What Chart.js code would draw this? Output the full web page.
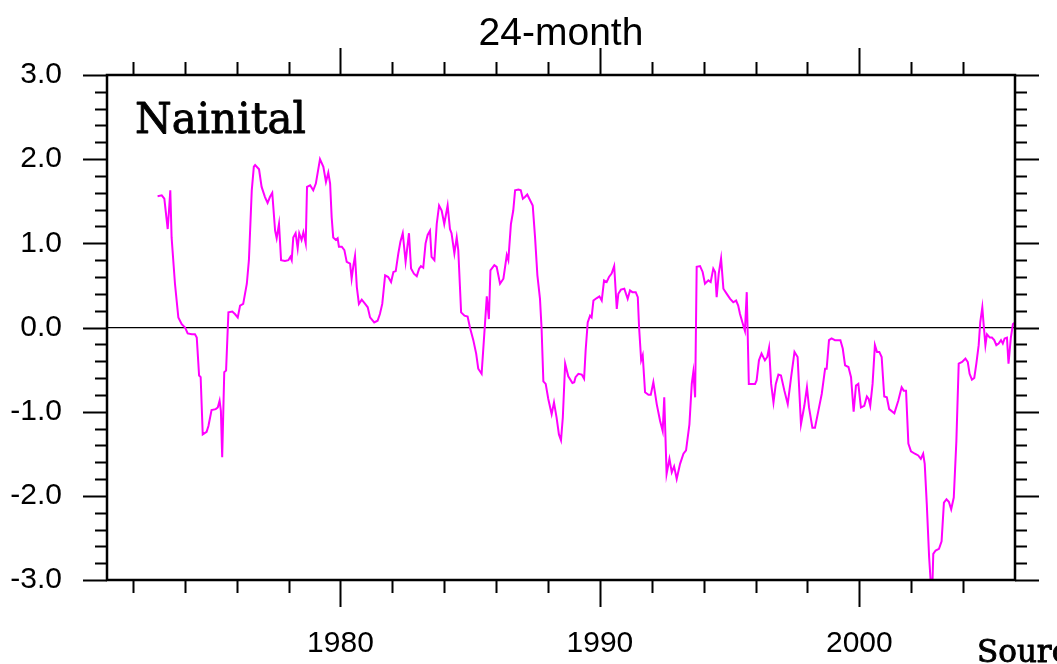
<!DOCTYPE html>
<html lang="en">
<head>
    <meta charset="UTF-8">
    <title>Nainital - 24-month</title>
    <script src="https://cdn.jsdelivr.net/npm/chart.js"></script>
    <style>
        html, body { margin: 0; padding: 0; background: #fff; }
        #wrap { width: 1057px; height: 664px; position: relative; }
    </style>
</head>
<body>
    <div id="wrap">
        <canvas id="spiChart"></canvas>
    </div>

    <script>
        // 24-month index for Nainital
        const years = [
            1972.95, 1973.11, 1973.21, 1973.34, 1973.39, 1973.44, 1973.49, 1973.62, 1973.75, 1973.88,
            1974.01, 1974.11, 1974.27, 1974.39, 1974.46, 1974.55, 1974.61, 1974.69, 1974.84, 1974.91,
            1975.03, 1975.19, 1975.27, 1975.34, 1975.39, 1975.44, 1975.52, 1975.59, 1975.68, 1975.83,
            1975.93, 1976.04, 1976.13, 1976.25, 1976.39, 1976.47, 1976.58, 1976.66, 1976.71, 1976.86,
            1976.96, 1977.09, 1977.19, 1977.28, 1977.37, 1977.48, 1977.54, 1977.63, 1977.71, 1977.86,
            1977.99, 1978.07, 1978.12, 1978.18, 1978.27, 1978.35, 1978.41, 1978.50, 1978.57, 1978.66,
            1978.71, 1978.83, 1978.95, 1979.05, 1979.21, 1979.34, 1979.44, 1979.53, 1979.60, 1979.66,
            1979.72, 1979.82, 1979.89, 1979.94, 1980.05, 1980.15, 1980.24, 1980.37, 1980.43, 1980.50,
            1980.56, 1980.63, 1980.71, 1980.82, 1980.95, 1981.05, 1981.14, 1981.30, 1981.43, 1981.52,
            1981.61, 1981.72, 1981.84, 1981.95, 1982.04, 1982.13, 1982.23, 1982.31, 1982.40, 1982.51,
            1982.64, 1982.72, 1982.83, 1982.94, 1983.03, 1983.10, 1983.19, 1983.28, 1983.36, 1983.45,
            1983.51, 1983.62, 1983.71, 1983.80, 1983.90, 1984.00, 1984.13, 1984.22, 1984.28, 1984.39,
            1984.48, 1984.54, 1984.65, 1984.78, 1984.90, 1984.99, 1985.12, 1985.23, 1985.31, 1985.44,
            1985.51, 1985.64, 1985.72, 1985.78, 1985.93, 1986.02, 1986.15, 1986.28, 1986.41, 1986.47,
            1986.57, 1986.66, 1986.73, 1986.86, 1986.95, 1987.03, 1987.11, 1987.20, 1987.28, 1987.41,
            1987.50, 1987.59, 1987.69, 1987.75, 1987.82, 1987.91, 1988.01, 1988.14, 1988.23, 1988.33,
            1988.42, 1988.50, 1988.57, 1988.66, 1988.78, 1988.94, 1989.01, 1989.06, 1989.17, 1989.30,
            1989.39, 1989.45, 1989.53, 1989.62, 1989.68, 1989.75, 1989.88, 1989.98, 1990.07, 1990.16,
            1990.26, 1990.35, 1990.45, 1990.55, 1990.65, 1990.71, 1990.81, 1990.94, 1991.07, 1991.16,
            1991.25, 1991.38, 1991.46, 1991.51, 1991.59, 1991.65, 1991.74, 1991.87, 1991.96, 1992.06,
            1992.19, 1992.32, 1992.42, 1992.48, 1992.57, 1992.68, 1992.77, 1992.86, 1992.96, 1993.09,
            1993.22, 1993.32, 1993.45, 1993.54, 1993.60, 1993.67, 1993.73, 1993.86, 1993.96, 1994.05,
            1994.18, 1994.27, 1994.37, 1994.44, 1994.50, 1994.58, 1994.67, 1994.76, 1994.89, 1995.02,
            1995.14, 1995.25, 1995.33, 1995.40, 1995.53, 1995.59, 1995.66, 1995.74, 1995.98, 1996.04,
            1996.13, 1996.23, 1996.36, 1996.45, 1996.52, 1996.60, 1996.69, 1996.78, 1996.88, 1996.98,
            1997.11, 1997.24, 1997.37, 1997.50, 1997.62, 1997.75, 1997.88, 1997.98, 1998.06, 1998.19,
            1998.29, 1998.42, 1998.55, 1998.68, 1998.74, 1998.83, 1998.93, 1999.06, 1999.27, 1999.36,
            1999.45, 1999.58, 1999.68, 1999.78, 1999.87, 1999.96, 2000.06, 2000.19, 2000.29, 2000.36,
            2000.42, 2000.51, 2000.60, 2000.68, 2000.77, 2000.86, 2000.96, 2001.06, 2001.15, 2001.35,
            2001.50, 2001.63, 2001.71, 2001.80, 2001.89, 2001.99, 2002.14, 2002.27, 2002.37, 2002.46,
            2002.52, 2002.60, 2002.69, 2002.75, 2002.82, 2002.85, 2002.94, 2003.07, 2003.17, 2003.26,
            2003.36, 2003.45, 2003.54, 2003.64, 2003.74, 2003.83, 2003.96, 2004.09, 2004.18, 2004.25,
            2004.34, 2004.43, 2004.51, 2004.60, 2004.66, 2004.74, 2004.79, 2004.86, 2004.92, 2005.03,
            2005.11, 2005.20, 2005.28, 2005.37, 2005.46, 2005.53, 2005.60, 2005.69, 2005.75, 2005.84,
            2005.92, 2006.00
        ];
        const spi24 = [
            1.56, 1.57, 1.53, 1.17, 1.39, 1.63, 1.07, 0.52, 0.12, 0.04,
            0.00, -0.07, -0.08, -0.08, -0.12, -0.57, -0.59, -1.27, -1.24, -1.17,
            -0.98, -0.97, -0.95, -0.87, -0.99, -1.54, -0.53, -0.51, 0.18, 0.19,
            0.16, 0.12, 0.26, 0.28, 0.52, 0.80, 1.63, 1.91, 1.93, 1.88,
            1.67, 1.55, 1.48, 1.55, 1.60, 1.15, 1.06, 1.23, 0.80, 0.79,
            0.80, 0.84, 0.80, 1.07, 1.12, 0.94, 1.12, 1.04, 1.13, 1.00,
            1.67, 1.69, 1.63, 1.71, 2.00, 1.91, 1.73, 1.84, 1.71, 1.31,
            1.07, 1.04, 1.06, 0.96, 0.96, 0.92, 0.78, 0.76, 0.58, 0.74,
            0.85, 0.48, 0.28, 0.33, 0.28, 0.24, 0.12, 0.06, 0.08, 0.16,
            0.28, 0.62, 0.60, 0.54, 0.66, 0.67, 0.88, 1.02, 1.12, 0.78,
            1.12, 0.70, 0.64, 0.61, 0.70, 0.73, 0.71, 1.00, 1.10, 1.15,
            0.84, 0.80, 1.23, 1.45, 1.39, 1.23, 1.45, 1.17, 1.12, 0.88,
            1.07, 0.92, 0.18, 0.14, 0.13, 0.00, -0.15, -0.31, -0.49, -0.55,
            -0.23, 0.37, 0.10, 0.68, 0.74, 0.72, 0.52, 0.58, 0.86, 0.80,
            1.23, 1.39, 1.63, 1.64, 1.63, 1.53, 1.55, 1.58, 1.53, 1.45,
            1.07, 0.62, 0.34, 0.00, -0.64, -0.67, -0.85, -1.03, -0.89, -1.07,
            -1.27, -1.34, -1.07, -0.43, -0.58, -0.66, -0.65, -0.59, -0.55, -0.56,
            -0.61, -0.27, 0.06, 0.14, 0.12, 0.32, 0.35, 0.37, 0.32, 0.56,
            0.54, 0.60, 0.64, 0.73, 0.22, 0.40, 0.45, 0.46, 0.34, 0.44,
            0.42, 0.42, 0.36, 0.00, -0.39, -0.33, -0.77, -0.80, -0.80, -0.65,
            -0.91, -1.11, -1.23, -0.83, -1.74, -1.56, -1.72, -1.65, -1.80, -1.62,
            -1.50, -1.46, -1.15, -0.67, -0.53, -0.83, 0.72, 0.73, 0.66, 0.52,
            0.56, 0.54, 0.70, 0.66, 0.36, 0.64, 0.82, 0.46, 0.40, 0.34,
            0.30, 0.32, 0.26, 0.16, 0.02, -0.04, 0.42, -0.67, -0.67, -0.63,
            -0.39, -0.31, -0.39, -0.35, -0.24, -0.67, -0.89, -0.67, -0.56, -0.57,
            -0.75, -0.91, -0.59, -0.29, -0.35, -1.15, -0.93, -0.71, -0.95, -1.19,
            -1.19, -0.99, -0.79, -0.49, -0.49, -0.15, -0.13, -0.15, -0.15, -0.25,
            -0.45, -0.47, -0.59, -1.00, -0.69, -0.67, -0.95, -0.93, -0.82, -0.85,
            -0.93, -0.67, -0.21, -0.29, -0.29, -0.35, -0.82, -0.83, -0.97, -1.02,
            -0.87, -0.71, -0.75, -0.75, -1.38, -1.47, -1.50, -1.52, -1.56, -1.50,
            -1.62, -2.10, -2.73, -3.02, -3.02, -2.69, -2.65, -2.63, -2.54, -2.08,
            -2.04, -2.07, -2.16, -2.02, -1.35, -0.43, -0.41, -0.37, -0.41, -0.55,
            -0.62, -0.60, -0.43, -0.21, 0.06, 0.24, 0.04, -0.21, -0.08, -0.12,
            -0.12, -0.15, -0.21, -0.19, -0.15, -0.19, -0.13, -0.12, -0.43, -0.12,
            0.04, 0.06
        ];

        const xMin = 1971, xMax = 2006;
        const xMajorTicks = [1980, 1990, 2000];
        const xMinorTicks = [1972, 1974, 1976, 1978, 1982, 1984, 1986, 1988, 1992, 1994, 1996, 1998, 2002, 2004];
        const yTicks = [-3, -2, -1, 0, 1, 2, 3];

        const sans = "'Liberation Sans', Arial, Helvetica, sans-serif";
        const slab = "'DejaVu Serif', serif";

        // frame, outward tick marks, title and the two free text labels
        const framePlugin = {
            id: 'frame',
            afterDraw(chart) {
                const { ctx, chartArea: a, scales: { x, y } } = chart;
                ctx.save();
                ctx.strokeStyle = '#000';
                ctx.lineCap = 'butt';

                ctx.lineWidth = 2;
                xMajorTicks.concat(xMinorTicks).forEach(v => {
                    const px = Math.round(x.getPixelForValue(v)) + 0.5;
                    const len = xMajorTicks.includes(v) ? 27 : 13;
                    ctx.beginPath();
                    ctx.moveTo(px, a.bottom); ctx.lineTo(px, a.bottom + len);
                    ctx.moveTo(px, a.top); ctx.lineTo(px, a.top - len);
                    ctx.stroke();
                });
                for (let i = -15; i <= 15; i++) {
                    const v = i / 5;
                    const py = Math.round(y.getPixelForValue(v)) + 0.5;
                    const len = i % 5 === 0 ? 24 : 12;
                    ctx.beginPath();
                    ctx.moveTo(a.left, py); ctx.lineTo(a.left - len, py);
                    ctx.moveTo(a.right, py); ctx.lineTo(a.right + len, py);
                    ctx.stroke();
                }

                ctx.lineWidth = 2.5;
                ctx.strokeRect(a.left, a.top, a.right - a.left, a.bottom - a.top);

                ctx.fillStyle = '#000';
                ctx.textAlign = 'center';
                ctx.textBaseline = 'middle';
                ctx.font = '39px ' + sans;
                ctx.fillText('24-month', (a.left + a.right) / 2, 34);

                // slab labels are a bit heavier in the original, so add a thin outline
                ctx.textBaseline = 'alphabetic';
                ctx.textAlign = 'left';
                ctx.lineWidth = 0.9;
                ctx.lineJoin = 'round';
                ctx.font = '42px ' + slab;
                ctx.fillText('Nainital', 135, 133);
                ctx.strokeText('Nainital', 135, 133);
                ctx.font = '31px ' + slab;
                ctx.fillText('Source:', 977, 662);
                ctx.strokeText('Source:', 977, 662);
                ctx.restore();
            }
        };

        Chart.defaults.font.family = sans;
        Chart.defaults.color = '#000';

        new Chart(document.getElementById('spiChart'), {
            type: 'line',
            data: {
                datasets: [{
                    label: '24-month',
                    data: years.map((yr, i) => ({ x: yr, y: spi24[i] })),
                    borderColor: '#ff00ff',
                    borderWidth: 2,
                    pointRadius: 0,
                    tension: 0,
                    fill: false
                }]
            },
            options: {
                responsive: true,
                maintainAspectRatio: false,
                animation: false,
                layout: { padding: { top: 75, right: 42, left: 0, bottom: 0 } },
                plugins: {
                    legend: { display: false },
                    tooltip: { enabled: false },
                    title: { display: false }
                },
                scales: {
                    x: {
                        type: 'linear',
                        min: xMin,
                        max: xMax,
                        afterBuildTicks: s => { s.ticks = xMajorTicks.map(v => ({ value: v })); },
                        afterFit: s => { s.height = 84; },
                        grid: { display: false, drawTicks: false },
                        border: { display: false },
                        ticks: {
                            padding: 46,
                            maxRotation: 0,
                            font: { size: 30 },
                            callback: v => String(v)
                        }
                    },
                    y: {
                        min: -3,
                        max: 3,
                        afterBuildTicks: s => { s.ticks = yTicks.map(v => ({ value: v })); },
                        afterFit: s => { s.width = 107; },
                        grid: {
                            drawTicks: false,
                            lineWidth: 1.3,
                            color: c => (c.tick && c.tick.value === 0) ? '#000' : 'rgba(0,0,0,0)'
                        },
                        border: { display: false },
                        ticks: {
                            padding: 45,
                            font: { size: 30 },
                            callback: v => v.toFixed(1)
                        }
                    }
                }
            },
            plugins: [framePlugin]
        });
    </script>
</body>
</html>
